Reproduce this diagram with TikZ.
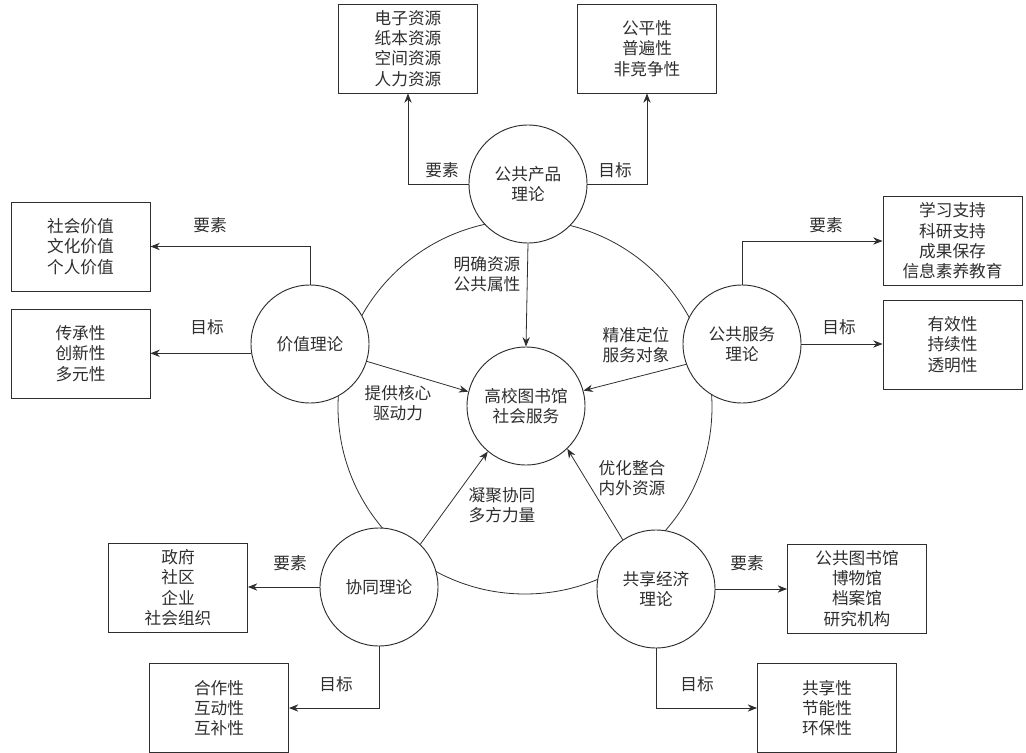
\documentclass[tikz,border=0pt]{standalone}
\usepackage{fontspec}
\setmainfont{Noto Sans CJK SC}
\usetikzlibrary{arrows.meta}
\definecolor{ink}{HTML}{2E2E2E}
\begin{document}
\begin{tikzpicture}[x=0.75pt,y=-0.75pt,
  every node/.style={font=\fontsize{12.5pt}{15.2pt}\selectfont, text=ink},
  circ/.style={draw=ink, circle, fill=white, minimum size=88.5pt, inner sep=0pt, align=center, line width=0.7pt},
  box/.style={draw=ink, rectangle, align=center, line width=0.7pt, minimum width=104.25pt, minimum height=66.75pt, inner sep=0pt},
  lab/.style={align=center},
  arr/.style={draw=ink, -{Stealth[length=7pt,width=5.5pt]}, line width=0.6pt},
]
\useasboundingbox (0,0) rectangle (1026,753);
\coordinate (O) at (525,407);
\draw[ink, line width=0.6pt] (O) circle[radius=140.25pt];

% circles
\node[circ] (C) at (526,406) {高校图书馆\\社会服务};
\node[circ] (T) at (528,184) {公共产品\\理论};
\node[circ] (L) at (310,344) {价值理论};
\node[circ] (R) at (742,344) {公共服务\\理论};
\node[circ] (BL) at (379,587) {协同理论};
\node[circ] (BR) at (656,589) {共享经济\\理论};

% boxes
\node[box] (bTL) at (408,48.5) {电子资源\\纸本资源\\空间资源\\人力资源};
\node[box] (bTR) at (647,48.5) {公平性\\普遍性\\非竞争性};
\node[box] (bL1) at (80.5,246.5) {社会价值\\文化价值\\个人价值};
\node[box] (bL2) at (80.5,353.5) {传承性\\创新性\\多元性};
\node[box] (bR1) at (952.5,241) {学习支持\\科研支持\\成果保存\\信息素养教育};
\node[box] (bR2) at (952.5,344.5) {有效性\\持续性\\透明性};
\node[box] (bBL1) at (178,587.5) {政府\\社区\\企业\\社会组织};
\node[box] (bBL2) at (219,708) {合作性\\互动性\\互补性};
\node[box] (bBR1) at (857,588.5) {公共图书馆\\博物馆\\档案馆\\研究机构};
\node[box] (bBR2) at (827,708) {共享性\\节能性\\环保性};

% outer connectors
\draw[arr] (T.west) -| (bTL.south);
\draw[arr] (T.east) -| (bTR.south);
\draw[arr] (L.north) |- (bL1.east);
\draw[arr] (L.189) -- (L.189 -| bL2.east);
\draw[arr] (R.north) |- (bR1.west);
\draw[arr] (R.east) -- (R.east -| bR2.west);
\draw[arr] (BL.west) -- (BL.west -| bBL1.east);
\draw[arr] (BL.south) |- (bBL2.east);
\draw[arr] (BR.east) -- (BR.east -| bBR1.west);
\draw[arr] (BR.south) |- (bBR2.west);

\node[lab] (t1) at (442,170) {要素};
\node[lab] (t2) at (615,170) {目标};
\node[lab] (l1) at (210,225) {要素};
\node[lab] (l2) at (207,327) {目标};
\node[lab] (r1) at (826,225) {要素};
\node[lab] (r2) at (839,327) {目标};
\node[lab] (bl1) at (290,563) {要素};
\node[lab] (bl2) at (336,684) {目标};
\node[lab] (br1) at (747,563) {要素};
\node[lab] (br2) at (697,684) {目标};

% inner connectors
\draw[arr] (T.270) -- (C.90);
\draw[arr] (L.343) -- (C.166);
\draw[arr] (R.200) -- (C.15);
\draw[arr] (BL.46) -- (C.230);
\draw[arr] (BR.124) -- (C.314);

\node[lab] (i1) at (487,274) {明确资源\\公共属性};
\node[lab] (i2) at (398,403) {提供核心\\驱动力};
\node[lab] (i3) at (636,345) {精准定位\\服务对象};
\node[lab] (i4) at (502,505) {凝聚协同\\多方力量};
\node[lab] (i5) at (632,478) {优化整合\\内外资源};
\end{tikzpicture}
\end{document}
